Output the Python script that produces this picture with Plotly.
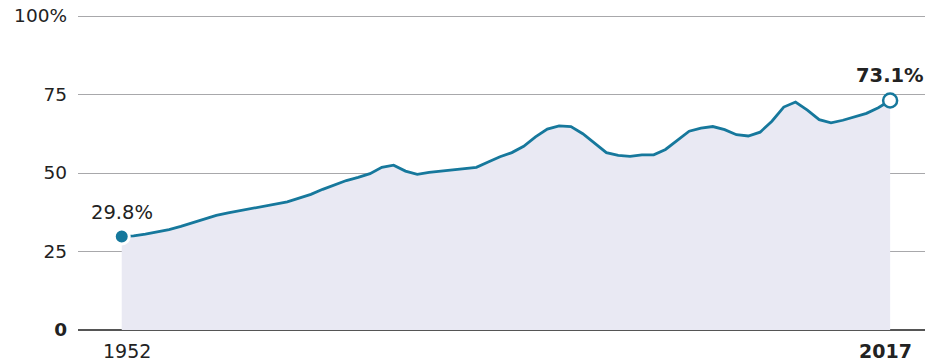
import plotly.graph_objects as go

years = list(range(1952, 2018))
values = [29.8, 30.0, 30.5, 31.2, 32.0, 33.0, 34.2, 35.5, 36.5, 37.3,
          38.0, 38.7, 39.4, 40.0, 40.8, 42.0, 43.2, 44.8, 46.2, 47.6,
          48.6, 49.8, 51.8, 52.5, 50.6, 49.6, 50.2, 50.6, 50.9, 51.4,
          51.8, 53.5, 55.2, 56.5, 58.5, 61.5, 64.0, 65.0, 64.8, 62.5,
          59.5, 56.5, 55.6, 55.3, 55.8, 55.8, 57.5, 60.5, 63.3, 64.3,
          64.8, 63.8, 62.2, 61.8, 63.0, 66.5, 71.0, 72.6, 70.0, 67.0,
          66.0, 66.8, 68.0, 69.0, 70.8, 73.1]

y_ticks = [0, 25, 50, 75, 100]
y_labels = ["<b>0</b>", "25", "50", "75", "100%"]
x_labels = {1952: "1952", 2017: "<b>2017</b>"}
start_label = "29.8%"
end_label = "<b>73.1%</b>"

LINE = "#16789c"
FILL = "#e9e9f3"
FONT = "DejaVu Sans"
TXT = "#222"

fig = go.Figure()
fig.add_trace(go.Scatter(x=years, y=values, mode="lines", fill="tozeroy",
                         fillcolor=FILL, line=dict(color=LINE, width=2.8),
                         hoverinfo="skip", showlegend=False))
fig.add_trace(go.Scatter(x=[years[0]], y=[values[0]], mode="markers",
                         marker=dict(size=15, color=LINE, line=dict(color="white", width=3)),
                         showlegend=False, hoverinfo="skip"))
fig.add_trace(go.Scatter(x=[years[-1]], y=[values[-1]], mode="markers",
                         marker=dict(size=14, color="white", line=dict(color=LINE, width=2.5)),
                         showlegend=False, hoverinfo="skip"))

fig.add_annotation(x=years[0], y=values[0], text=start_label, showarrow=False,
                   yshift=24, font=dict(family=FONT, size=19.5, color=TXT))
fig.add_annotation(x=years[-1], y=values[-1], text=end_label, showarrow=False,
                   yshift=25, xshift=0, font=dict(family=FONT, size=19.5, color=TXT))
for yr, lab in x_labels.items():
    fig.add_annotation(x=yr, xref="x", y=0, yref="paper", text=lab, showarrow=False,
                       yanchor="top", yshift=-8, xshift=(5 if yr == 1952 else -5),
                       font=dict(family=FONT, size=19, color=TXT))

fig.update_layout(
    width=929, height=364,
    margin=dict(l=78, r=4, t=13, b=34),
    paper_bgcolor="white", plot_bgcolor="white",
    font=dict(family=FONT, size=18, color=TXT),
)
fig.update_xaxes(range=[1948.3, 2019.95], showticklabels=False,
                 showgrid=False, zeroline=False, showline=False, ticks="",
                 fixedrange=True)
fig.update_yaxes(range=[0, 100.96], tickvals=y_ticks, ticktext=y_labels,
                 showgrid=True, gridcolor="#a8a8ab", gridwidth=1,
                 zeroline=True, zerolinecolor="#555", zerolinewidth=1.5,
                 showline=False, ticks="", ticklabelstandoff=10,
                 tickfont=dict(size=18.5, color=TXT), fixedrange=True)

fig.write_html("out.html")
